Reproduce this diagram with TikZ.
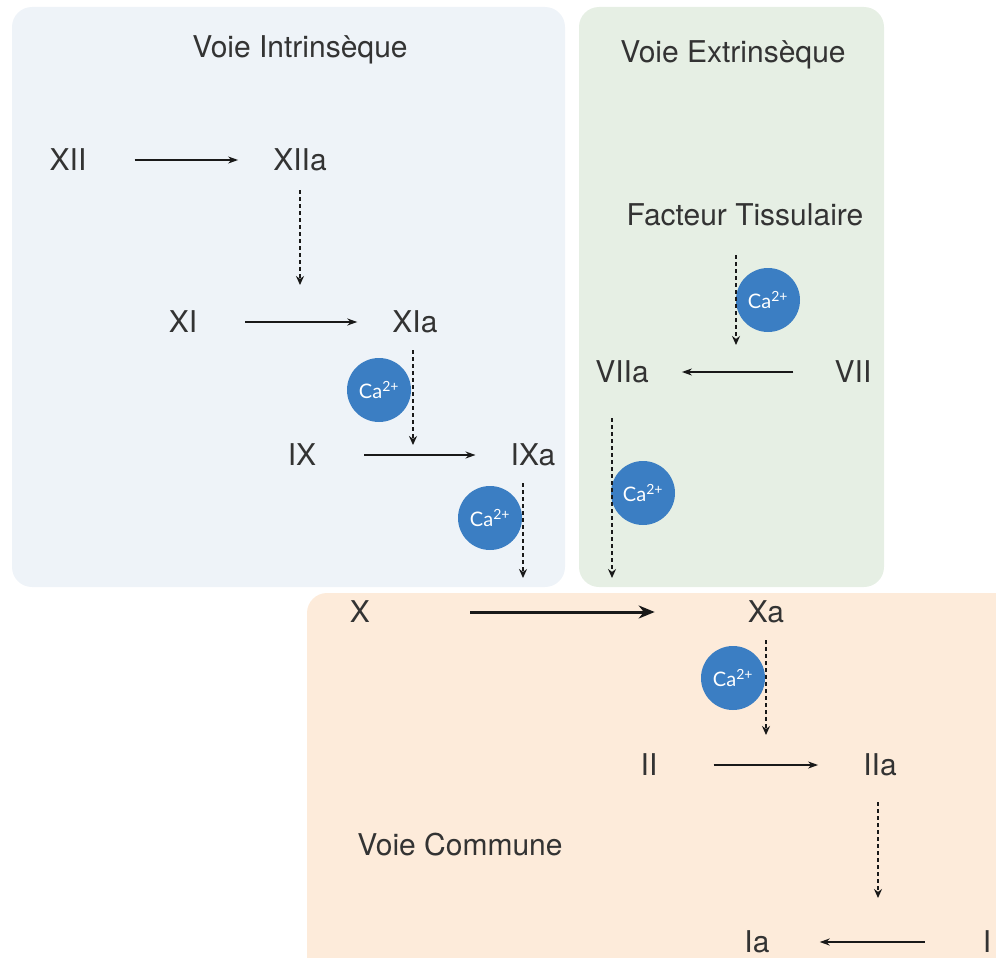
\documentclass[tikz,border=0pt]{standalone}
\usepackage{fontspec}
\setmainfont{TeX Gyre Heros}
\newfontfamily\cafont{Lato}
\usetikzlibrary{arrows.meta}

\definecolor{intrabg}{HTML}{EEF3F8}
\definecolor{extrabg}{HTML}{E6EFE4}
\definecolor{commbg}{HTML}{FDEBDA}
\definecolor{cablue}{HTML}{3B7EC3}

\tikzset{
  fact/.style={inner sep=0pt, text=black!80, font=\fontsize{30}{36}\selectfont},
  ion/.style={circle, fill=cablue, minimum size=64pt, inner sep=0pt, text=white,
    font=\cafont\fontsize{20}{24}\selectfont},
  conv/.style={-{Stealth[length=10pt,width=7pt]}, line width=1.6pt, black!90,
    shorten <=48pt, shorten >=35pt},
  cat/.style={-{Stealth[length=9pt,width=8pt]}, line width=2pt, black!90,
    dash pattern=on 4pt off 3pt},
}

\begin{document}
\begin{tikzpicture}[x=1pt,y=-1pt]
   \clip (0,0) rectangle (996,958);
   % panels
   \fill[intrabg, rounded corners=20pt] (12,7) rectangle (565,587);
   \fill[extrabg, rounded corners=20pt] (579,7) rectangle (884,587);
   \fill[commbg, rounded corners=20pt] (307,593) rectangle (1030,990);
   \node[fact] (intr) at (300,50) {Voie Intrinsèque};
   \node[fact] (extr) at (733,55) {Voie Extrinsèque};
   \node[fact] (comm) at (460,845) {Voie Commune};
   % facteurs
   \node[fact] (XII) at (68,160) {XII};
   \node[fact] (XIIa) at (300,160) {XIIa};
   \node[fact] (XI) at (183,322) {XI};
   \node[fact] (XIa) at (415,322) {XIa};
   \node[fact] (IX) at (302,455) {IX};
   \node[fact] (IXa) at (533,455) {IXa};
   \node[fact] (FT) at (745,215) {Facteur Tissulaire};
   \node[fact] (VIIa) at (622,372) {VIIa};
   \node[fact] (VII) at (853,372) {VII};
   \node[fact] (X) at (360,612) {X};
   \node[fact] (Xa) at (766,612) {Xa};
   \node[fact] (II) at (649,765) {II};
   \node[fact] (IIa) at (880,765) {IIa};
   \node[fact] (Ia) at (757,942) {Ia};
   \node[fact] (I) at (987,942) {I};
   % calcium
   \node[ion] (ca1) at (379,390) {Ca\textsuperscript{2+}};
   \node[ion] (ca2) at (490,518) {Ca\textsuperscript{2+}};
   \node[ion] (ca3) at (768,300) {Ca\textsuperscript{2+}};
   \node[ion] (ca4) at (643,493) {Ca\textsuperscript{2+}};
   \node[ion] (ca5) at (733,678) {Ca\textsuperscript{2+}};
   % activations
   \draw[conv] (XII) -- (XIIa);
   \draw[conv] (XI) -- (XIa);
   \draw[conv] (IX) -- (IXa);
   \draw[conv, shorten <=41pt, shorten >=33pt] (VII) -- (VIIa);
   \draw[conv, line width=3pt, -{Stealth[length=16pt,width=13pt]},
     shorten <=100pt, shorten >=93pt] (X) -- (Xa);
   \draw[conv, shorten <=56pt, shorten >=45pt] (II) -- (IIa);
   \draw[conv, shorten <=58pt, shorten >=50pt] (I) -- (Ia);
   % catalyses
   \draw[cat, shorten <=30pt, shorten >=37pt] (XIIa.center) -- (XIIa.center |- XI.center);
   \draw[cat, shorten <=28pt, shorten >=10pt] ([xshift=-2pt]XIa.center) -- ([xshift=-2pt]XIa.center |- IX.center);
   \draw[cat, shorten <=28pt, shorten >=34pt] ([xshift=-10pt]IXa.center) -- ([xshift=-10pt]IXa.center |- X.center);
   \draw[cat, shorten <=40pt, shorten >=27pt] ([xshift=-9pt]FT.center) -- ([xshift=-9pt]FT.center |- VIIa.center);
   \draw[cat, shorten <=46pt, shorten >=34pt] ([xshift=-10pt]VIIa.center) -- ([xshift=-10pt]VIIa.center |- X.center);
   \draw[cat, shorten <=28pt, shorten >=30pt] (Xa.center) -- (Xa.center |- II.center);
   \draw[cat, shorten <=37pt, shorten >=44pt] ([xshift=-2pt]IIa.center) -- ([xshift=-2pt]IIa.center |- Ia.center);
\end{tikzpicture}
\end{document}
